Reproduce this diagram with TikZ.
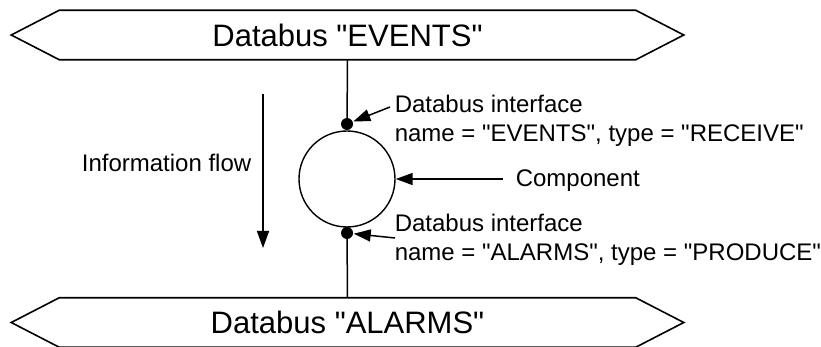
\documentclass[tikz,border=0pt]{standalone}
\usepackage{fontspec}
\newfontfamily\arialike{Liberation Sans}
\usetikzlibrary{arrows.meta}
\begin{document}
\begin{tikzpicture}[x=1pt,y=-1pt,
  line width=1.5pt,
  busbody/.style={minimum width=575pt,minimum height=48pt,inner sep=0pt,font=\arialike\fontsize{31}{36}\selectfont},
  busline/.style={draw,line width=1.6pt,line join=miter},
  lbl/.style={inner sep=0pt,font=\arialike\fontsize{24}{28}\selectfont},
  tri/.tip={Triangle[length=17pt,width=12pt]},
  dotnode/.style={circle,fill=black,inner sep=0pt,minimum size=12pt},
  comp/.style={circle,draw,line width=1.4pt,inner sep=0pt,minimum size=96pt}]
\useasboundingbox (0,0) rectangle (821,347);
% buses
\node[busbody] (busA) at (347.5,35) {Databus "EVENTS"};
\node[busbody] (busB) at (347.5,322.5) {Databus "ALARMS"};
\foreach \b in {busA,busB}{
  \draw[busline] (\b.north west) -- (\b.north east) -- ([xshift=48pt]\b.east)
    -- (\b.south east) -- (\b.south west) -- ([xshift=-48pt]\b.west) -- cycle;
}
% component and interfaces
\node[comp] (comp) at (347,179) {};
\node[dotnode] (dA) at (347,124) {};
\node[dotnode] (dB) at (347,233) {};
\draw (busA.south) -- (dA.center);
\draw (dB.center) -- (busB.north);
% labels
\node[lbl,anchor=base west] (ifA1) at (394,113) {Databus interface};
\node[lbl,anchor=base west] (ifA2) at (394,142) {name = "EVENTS", type = "RECEIVE"};
\node[lbl,anchor=base west] (compL) at (515,187) {Component};
\node[lbl,anchor=base west] (ifB1) at (394,232) {Databus interface};
\node[lbl,anchor=base west] (ifB2) at (394,261) {name = "ALARMS", type = "PRODUCE"};
\node[lbl,anchor=base east] (flowL) at (252,172) {Information flow};
% connectors
\coordinate (aA) at (390,107);
\coordinate (aC) at (503,179);
\coordinate (aB) at (395,238);
\coordinate (fT) at (263,94);
\coordinate (fB) at (263,248);
\draw[-tri] (aA) -- (dA);
\draw[-tri] (aC) -- (comp);
\draw[-tri] (aB) -- (dB);
\draw[-tri] (fT) -- (fB);
\end{tikzpicture}
\end{document}
